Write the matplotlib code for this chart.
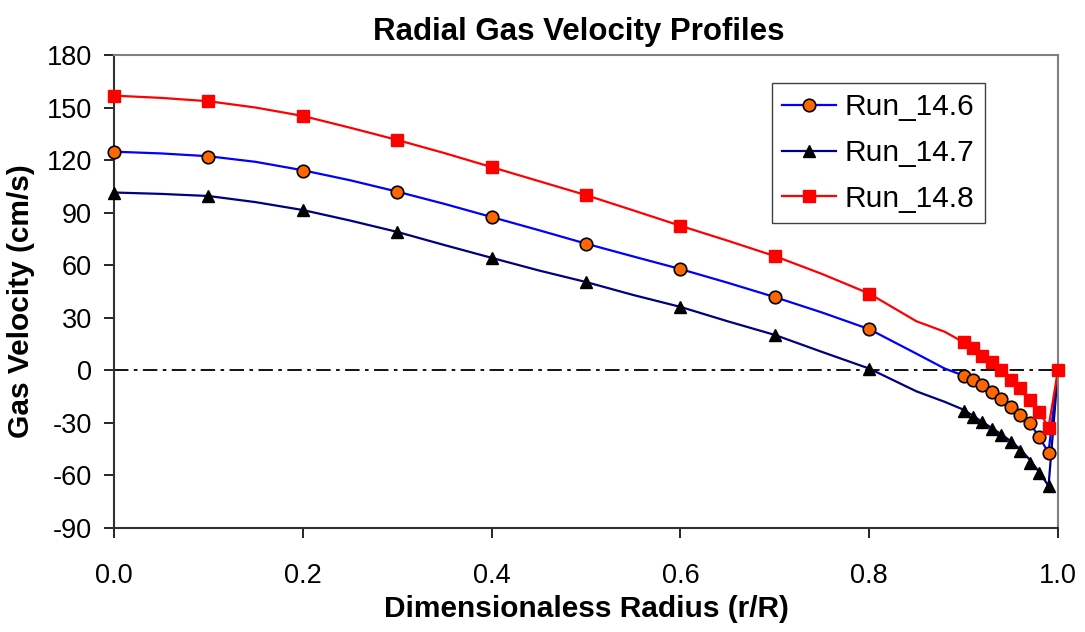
import matplotlib
matplotlib.use("Agg")
import matplotlib.pyplot as plt

plt.rcParams['font.family'] = ['Liberation Sans', 'DejaVu Sans']
plt.rcParams['axes.unicode_minus'] = False

# measured points (markers)
r_pts = [0.0, 0.1, 0.2, 0.3, 0.4, 0.5, 0.6, 0.7, 0.8,
         0.9, 0.91, 0.92, 0.93, 0.94, 0.95, 0.96, 0.97, 0.98, 0.99]
run146_pts = [124.4, 122.0, 114.0, 102.0, 87.3, 72.0, 57.6, 41.7, 23.4,
              -3.4, -5.7, -8.6, -12.6, -16.6, -21.0, -25.7, -30.0, -38.0, -47.4]
run147_pts = [101.0, 99.3, 91.3, 78.8, 64.0, 50.2, 36.0, 20.0, 0.6,
              -23.4, -26.8, -29.7, -33.7, -37.1, -41.1, -46.2, -53.0, -58.8, -66.2]
r_pts148 = r_pts + [1.0]
run148_pts = [156.4, 153.5, 145.0, 131.3, 115.9, 99.9, 82.2, 65.0, 43.4,
              16.0, 12.6, 8.0, 4.6, 0.0, -5.7, -10.3, -17.0, -24.0, -33.0, 0.0]

# profile lines
r_line = [0.0, 0.05, 0.1, 0.15, 0.2, 0.25, 0.3, 0.35, 0.4, 0.45, 0.5, 0.55,
          0.6, 0.65, 0.7, 0.75, 0.8, 0.85, 0.88, 0.9, 0.91, 0.92, 0.93, 0.94,
          0.95, 0.96, 0.97, 0.98, 0.99, 1.0]
run146_line = [124.8, 123.8, 122.2, 119.0, 114.2, 108.5, 102.0, 95.0, 87.5, 80.0,
               72.3, 65.0, 57.8, 50.0, 41.8, 33.0, 23.5, 9.5, 1.0, -3.0, -5.5,
               -8.5, -12.5, -16.5, -21.0, -25.5, -30.0, -38.0, -47.0, 0.0]
run147_line = [101.5, 100.7, 99.5, 96.0, 91.5, 85.5, 79.0, 71.5, 64.2, 57.0,
               50.4, 43.0, 36.2, 28.0, 20.2, 10.5, 1.0, -12.0, -18.0, -22.5, -26.0,
               -29.5, -33.0, -36.5, -40.5, -45.0, -51.0, -58.0, -66.0, 0.0]
run148_line = [156.8, 155.5, 153.6, 150.0, 145.2, 138.5, 131.5, 124.0, 116.0, 108.0,
               100.0, 91.3, 82.5, 74.0, 65.2, 55.0, 43.8, 28.0, 22.0, 16.0, 12.5,
               8.0, 4.5, 0.0, -5.5, -10.0, -16.5, -23.5, -32.5, 0.0]

fig = plt.figure(figsize=(10.85, 6.32), dpi=100)
ax = fig.add_axes([0.1051, 0.1646, 0.8700, 0.7484])

l1, = ax.plot(r_line, run146_line, color='#0000FF', lw=1.6)
m1, = ax.plot(r_pts, run146_pts, 'o', ls='none', mfc='#FF6600', mec='black',
              mew=1.2, ms=9, clip_on=False, zorder=4)
l2, = ax.plot(r_line, run147_line, color='#000080', lw=1.6)
m2, = ax.plot(r_pts, run147_pts, '^', ls='none', mfc='black', mec='black',
              ms=9, clip_on=False, zorder=4)
l3, = ax.plot(r_line, run148_line, color='#FF0000', lw=1.6)
m3, = ax.plot(r_pts148, run148_pts, 's', ls='none', mfc='#FF0000', mec='#FF0000',
              ms=9, clip_on=False, zorder=4)

ax.axhline(0, color='black', lw=1.3, ls=(0, (8, 3, 2, 3)), zorder=1)

ax.set_xlim(0, 1.0)
ax.set_ylim(-90, 180)
ax.set_xticks([0.0, 0.2, 0.4, 0.6, 0.8, 1.0])
ax.set_xticklabels(['0.0', '0.2', '0.4', '0.6', '0.8', '1.0'])
ax.set_yticks(range(-90, 181, 30))
ax.tick_params(axis='both', direction='out', length=7, width=1.2, labelsize=19.5)
ax.tick_params(axis='y', pad=9)
ax.tick_params(axis='x', pad=18.5)

for s in ['top', 'right']:
    ax.spines[s].set_color('#808080')
    ax.spines[s].set_linewidth(1.5)
for s in ['left', 'bottom']:
    ax.spines[s].set_color('#303030')
    ax.spines[s].set_linewidth(1.5)

ax.set_title('Radial Gas Velocity Profiles', fontsize=22.5, fontweight='bold',
             pad=11, x=0.492)
ax.set_xlabel('Dimensionaless Radius (r/R)', fontsize=21.5, fontweight='bold', labelpad=4)
ax.set_ylabel('Gas Velocity (cm/s)', fontsize=21.5, fontweight='bold',
              va='center', ha='center')
ax.yaxis.set_label_coords(-0.0985, 0.48)

leg = ax.legend([(l1, m1), (l2, m2), (l3, m3)], ['Run_14.6', 'Run_14.7', 'Run_14.8'],
                loc='upper left', bbox_to_anchor=(0.697, 0.941), fontsize=21.5,
                frameon=True, fancybox=False, framealpha=1, edgecolor='#404040',
                handlelength=1.8, handletextpad=0.3, labelspacing=0.6,
                borderpad=0.34, borderaxespad=0)
leg.get_frame().set_linewidth(1.0)

fig.savefig('out.png', dpi=100)
